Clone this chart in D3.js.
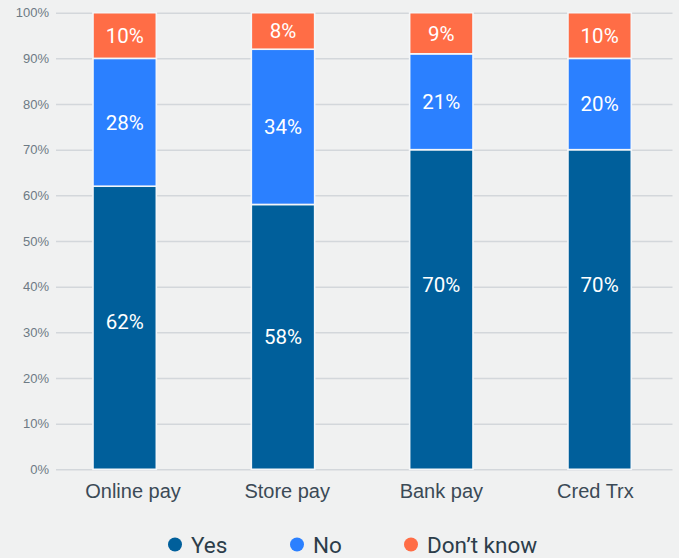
<!DOCTYPE html>
<html>
<head>
<meta charset="utf-8">
<script src="https://cdn.jsdelivr.net/npm/d3@7"></script>
<style>
  html, body { margin: 0; padding: 0; background: #f0f1f1; }
  svg { display: block; font-family: Roboto, "Noto Sans", sans-serif; }
</style>
</head>
<body>
<svg id="chart" width="679" height="558"></svg>
<script>
// Survey answers per payment type (percent)
const categories = ["Online pay", "Store pay", "Bank pay", "Cred Trx"];
const seriesNames = ["Yes", "No", "Don\u2019t know"];
const yesValues = [62, 58, 70, 70];
const noValues = [28, 34, 21, 20];
const dontKnowValues = [10, 8, 9, 10];
const yTicks = [0, 10, 20, 30, 40, 50, 60, 70, 80, 90, 100];
const colors = ["#005f9b", "#2b80ff", "#ff6d46"];

const rows = categories.map((c, i) => ({
  category: c,
  "Yes": yesValues[i],
  "No": noValues[i],
  "Don\u2019t know": dontKnowValues[i]
}));

const svg = d3.select("#chart");

const plotLeft = 56, plotRight = 672.5;

const y = d3.scaleLinear().domain([0, 100]).range([469.3, 12.7]);
// bar placement
const x = d3.scaleBand()
  .domain(categories)
  .range([45.5, 678.8])
  .paddingInner(0.6)
  .paddingOuter(0.3);
// category label placement across the gridded area
const xLabel = d3.scaleBand()
  .domain(categories)
  .range([plotLeft, plotRight]);

// Gridlines and percentage ticks
const yAxis = d3.axisLeft(y)
  .tickValues(yTicks)
  .tickFormat(d => d + "%")
  .tickSize(-(plotRight - plotLeft))
  .tickPadding(7);

const gy = svg.append("g")
  .attr("transform", `translate(${plotLeft},0)`)
  .call(yAxis);
gy.select(".domain").remove();
gy.selectAll(".tick line").attr("stroke", "#d3d7db").attr("stroke-width", 1.5);
gy.selectAll(".tick text")
  .attr("fill", "#6d7a84")
  .attr("font-size", 13)
  .attr("x", -7);

// Category labels
const xAxis = d3.axisBottom(xLabel).tickSize(0).tickPadding(14.5);
const gx = svg.append("g")
  .attr("transform", "translate(0,469.3)")
  .call(xAxis);
gx.select(".domain").remove();
gx.selectAll(".tick text")
  .attr("fill", "#3b4a56")
  .attr("font-size", 20);

// Stacked bars
const stack = d3.stack().keys(seriesNames);
const layers = stack(rows);

const layerG = svg.append("g")
  .selectAll("g")
  .data(layers)
  .join("g")
  .attr("fill", (d, i) => colors[i]);

layerG.selectAll("rect")
  .data(d => d.map(p => ({ p, key: d.key })))
  .join("rect")
  .attr("x", d => x(d.p.data.category))
  .attr("width", x.bandwidth())
  .attr("y", d => y(d.p[1]))
  .attr("height", d => y(d.p[0]) - y(d.p[1]))
  .attr("stroke", "#f4f6f8")
  .attr("stroke-width", 1.6);

// Value labels: centred in the segment, but kept near the top of tall segments
layerG.selectAll("text")
  .data(d => d.map(p => ({ p, key: d.key })))
  .join("text")
  .attr("x", d => x(d.p.data.category) + x.bandwidth() / 2)
  .attr("y", d => Math.min((y(d.p[0]) + y(d.p[1])) / 2, y(d.p[1]) + 135))
  .attr("dy", "0.36em")
  .attr("text-anchor", "middle")
  .attr("fill", "#ffffff")
  .attr("font-size", 20.5)
  .text(d => d.p.data[d.key] + "%");

// Legend
const legendX = [175, 297, 411];
const legend = svg.append("g")
  .selectAll("g")
  .data(seriesNames)
  .join("g")
  .attr("transform", (d, i) => `translate(${legendX[i]},544.5)`);
legend.append("circle")
  .attr("r", 7)
  .attr("fill", (d, i) => colors[i]);
legend.append("text")
  .attr("x", 16)
  .attr("dy", "0.36em")
  .attr("fill", "#2c3d4a")
  .attr("font-size", 22.5)
  .text(d => d);
</script>
</body>
</html>
